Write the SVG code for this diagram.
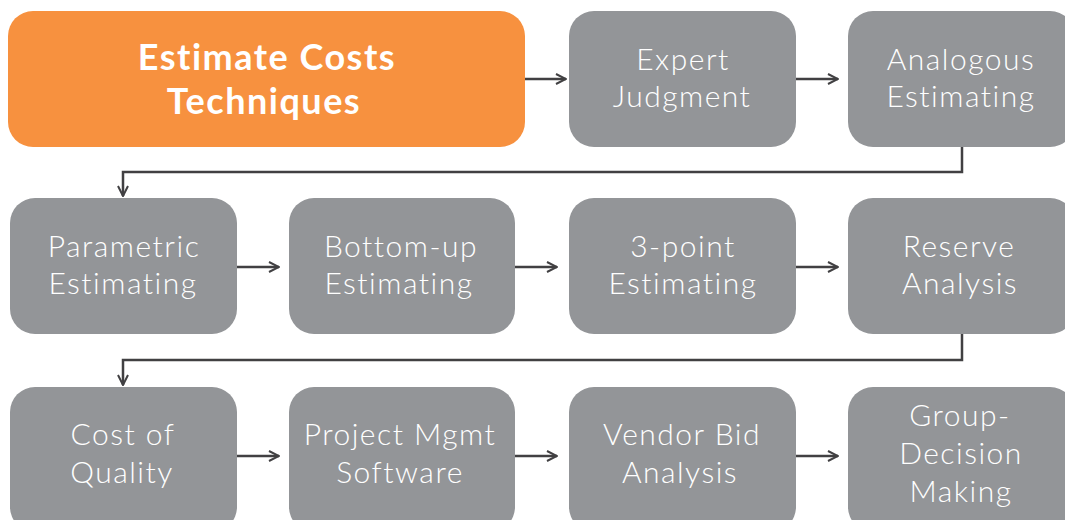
<svg xmlns="http://www.w3.org/2000/svg" width="1065" height="520" viewBox="0 0 1065 520">
<defs>
<marker id="arr" viewBox="0 0 12 12" refX="11" refY="6" markerWidth="12" markerHeight="12" markerUnits="userSpaceOnUse" orient="auto">
<path d="M1,1 L11,6 L1,11" fill="none" stroke="#414042" stroke-width="2"/>
</marker>
<style>
.box{fill:#939598}
.t{font-family:Lato,"Liberation Sans",sans-serif;font-size:30px;fill:#ffffff;text-anchor:middle;font-weight:300;letter-spacing:1.5px;font-variant-ligatures:none}
.h{font-family:Lato,"Liberation Sans",sans-serif;font-size:36px;fill:#ffffff;text-anchor:middle;font-weight:700;letter-spacing:1.5px;font-variant-ligatures:none}
.c{fill:none;stroke:#414042;stroke-width:2.5;marker-end:url(#arr)}
</style>
</defs>
<rect width="1065" height="520" fill="#ffffff"/>
<g id="connectors">
<path class="c" d="M525,79 H566"/>
<path class="c" d="M796,79 H838"/>
<path class="c" d="M962,147 V172 H123 V196"/>
<path class="c" d="M237,267 H279"/>
<path class="c" d="M515,267 H557"/>
<path class="c" d="M796,267 H838"/>
<path class="c" d="M962,334 V360 H123 V385"/>
<path class="c" d="M237,456 H279"/>
<path class="c" d="M515,456 H557"/>
<path class="c" d="M796,456 H838"/>
</g>
<g id="n-estimate"><rect x="8" y="11" width="517" height="136" rx="25" fill="#f7913f"/><text class="h" x="267" y="70">Estimate Costs</text><text class="h" x="264" y="114">Techniques</text></g>
<g id="n-expert"><rect class="box" x="569" y="11" width="227" height="136" rx="25"/><text class="t" x="683" y="70">Expert</text><text class="t" x="682" y="107">Judgment</text></g>
<g id="n-analogous"><rect class="box" x="848" y="11" width="227" height="136" rx="25"/><text class="t" x="961" y="70">Analogous</text><text class="t" x="961" y="107">Estimating</text></g>
<g id="n-parametric"><rect class="box" x="10" y="198" width="227" height="136" rx="25"/><text class="t" x="124" y="257">Parametric</text><text class="t" x="123" y="294">Estimating</text></g>
<g id="n-bottomup"><rect class="box" x="289" y="198" width="226" height="136" rx="25"/><text class="t" x="401" y="257">Bottom-up</text><text class="t" x="399" y="294">Estimating</text></g>
<g id="n-3point"><rect class="box" x="569" y="198" width="227" height="136" rx="25"/><text class="t" x="683" y="257">3-point</text><text class="t" x="683" y="294">Estimating</text></g>
<g id="n-reserve"><rect class="box" x="848" y="198" width="227" height="136" rx="25"/><text class="t" x="959" y="257">Reserve</text><text class="t" x="960" y="294">Analysis</text></g>
<g id="n-quality"><rect class="box" x="10" y="387" width="227" height="145" rx="25"/><text class="t" x="123" y="445">Cost of</text><text class="t" x="122" y="483">Quality</text></g>
<g id="n-pmsoftware"><rect class="box" x="289" y="387" width="226" height="145" rx="25"/><text class="t" x="400" y="445">Project Mgmt</text><text class="t" x="400" y="483">Software</text></g>
<g id="n-vendor"><rect class="box" x="569" y="387" width="227" height="145" rx="25"/><text class="t" x="682" y="445">Vendor Bid</text><text class="t" x="680" y="483">Analysis</text></g>
<g id="n-group"><rect class="box" x="848" y="387" width="227" height="145" rx="25"/><text class="t" x="960" y="426">Group-</text><text class="t" x="961" y="464">Decision</text><text class="t" x="961" y="502">Making</text></g>
</svg>
